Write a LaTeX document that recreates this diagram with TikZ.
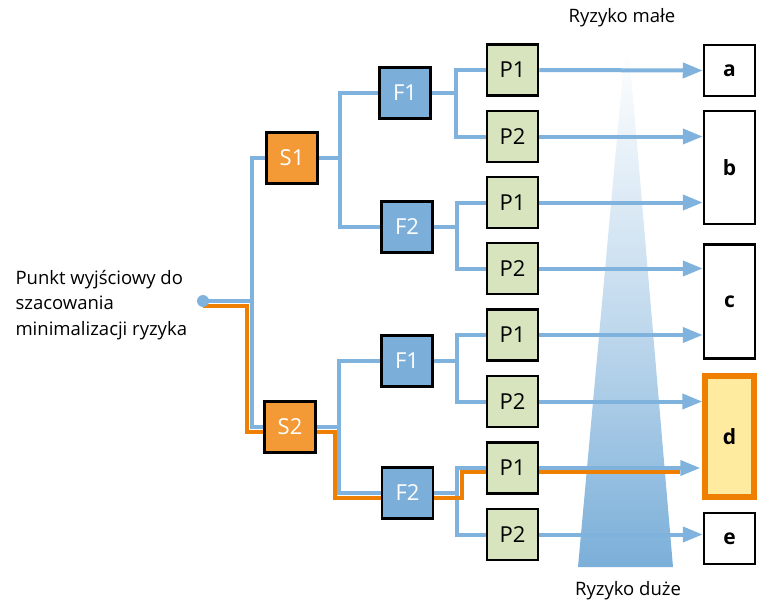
\documentclass[tikz,border=0pt]{standalone}
\usepackage{fontspec}
\setmainfont{Open Sans}
\usetikzlibrary{arrows.meta}
\definecolor{blueline}{HTML}{7FB3DD}
\definecolor{bluebox}{HTML}{7BAFD9}
\definecolor{orangebox}{HTML}{F39A36}
\definecolor{orangeline}{HTML}{EE7F00}
\definecolor{greenbox}{HTML}{D7E4BD}
\definecolor{yellowbox}{HTML}{FFEBA0}
\tikzset{
  sbox/.style={draw=black, line width=2.5pt, fill=orangebox, minimum size=51pt, inner sep=0pt, text=white, font=\fontsize{22}{22}\selectfont},
  fbox/.style={draw=black, line width=2.5pt, fill=bluebox, minimum size=51pt, inner sep=0pt, text=white, font=\fontsize{22}{22}\selectfont},
  pbox/.style={draw=black, line width=2.5pt, fill=greenbox, minimum size=51pt, inner sep=0pt, text=black, font=\fontsize{22}{22}\selectfont},
  rbox/.style={draw=black, line width=2.5pt, fill=white, minimum width=51pt, inner sep=0pt, text=black, font=\fontsize{21}{21}\selectfont\bfseries},
  bline/.style={draw=blueline, line width=4pt},
  oline/.style={draw=orangeline, line width=4pt},
  barrow/.style={draw=blueline, line width=4pt, -{Triangle[length=20pt,width=15pt]}},
  lbl/.style={font=\fontsize{18.5}{25.5}\selectfont, text=black},
}
\begin{document}
\begin{tikzpicture}[x=1pt,y=-1pt]
\useasboundingbox (0,0) rectangle (757,607);
% gradient wedge
\shade[top color=white, bottom color=bluebox, middle color=bluebox!45] (625,50) -- (629,50) -- (673,567) -- (578,567) -- cycle;
% nodes
\node[sbox] (S1) at (292,158) {S1};
\node[sbox] (S2) at (290,427) {S2};
\node[fbox] (F1a) at (405,93) {F1};
\node[fbox] (F2a) at (407,227) {F2};
\node[fbox] (F1b) at (407,361) {F1};
\node[fbox] (F2b) at (407.5,493) {F2};
\node[pbox] (P1a) at (512.5,70) {P1};
\node[pbox] (P2a) at (512.5,136.5) {P2};
\node[pbox] (P1b) at (512.5,202.5) {P1};
\node[pbox] (P2b) at (512.5,268.5) {P2};
\node[pbox] (P1c) at (512.5,335) {P1};
\node[pbox] (P2c) at (512.5,401.5) {P2};
\node[pbox] (P1d) at (512.5,468) {P1};
\node[pbox] (P2d) at (512.5,534.5) {P2};
\node[rbox, minimum height=51pt] (a) at (729.5,70.5) {a};
\node[rbox, minimum height=113pt] (b) at (729.5,167.5) {b};
\node[rbox, minimum height=114pt] (c) at (729.5,301.5) {c};
\node[rbox, draw=orangeline, line width=5.5pt, fill=yellowbox, minimum width=49pt, minimum height=121pt] (d) at (729.5,436.5) {d};
\node[rbox, minimum height=51pt] (e) at (729.5,538.5) {e};
\coordinate (start) at (203,301);
% labels
\node[lbl, align=left, anchor=west] (lab) at (12,305) {Punkt wyjściowy do\\szacowania\\minimalizacji ryzyka};
\node[lbl] (low) at (622,18) {Ryzyko małe};
\node[lbl] (high) at (628,591) {Ryzyko duże};
% blue tree
\draw[bline] (start) -- (252,301);
\draw[bline] (S1.west) -| (252,427) -- (S2.west);
\draw[bline] (F1a.west) -| (340,227) -- (F2a.west);
\draw[bline] (S1.east) -- (340,158);
\draw[bline] (F1b.west) -| (339,493) -- (F2b.west);
\draw[bline] (S2.east) -- (339,427);
\draw[bline] (P1a.west) -| (456,136.5) -- (P2a.west);
\draw[bline] (F1a.east) -- (456,93);
\draw[bline] (P1b.west) -| (457,268.5) -- (P2b.west);
\draw[bline] (F2a.east) -- (457,227);
\draw[bline] (P1c.west) -| (457,401.5) -- (P2c.west);
\draw[bline] (F1b.east) -- (457,361);
\draw[bline] (P1d.west) -| (457,534.5) -- (P2d.west);
\draw[bline] (F2b.east) -- (457,493);
% arrows
\draw[barrow] (P1a.east) -- (a.west);
\draw[barrow] (P2a.east) -- (b.west |- P2a);
\draw[barrow] (P1b.east) -- (b.west |- P1b);
\draw[barrow] (P2b.east) -- (c.west |- P2b);
\draw[barrow] (P1c.east) -- (c.west |- P1c);
\draw[barrow] (P2c.east) -- (d.west |- P2c);
\draw[barrow] (P1d.east) -- ([xshift=-2pt]d.west |- P1d);
\draw[barrow] (P2d.east) -- (e.west |- P2d);
% orange path
\draw[oline] ([yshift=-5pt]start) -- (247,306) -- (247,432) -- ([yshift=-5pt]S2.west);
\draw[oline] ([yshift=-5pt]S2.east) -- (334.5,432) -- (334.5,498) -- ([yshift=-5pt]F2b.west);
\draw[oline] ([yshift=-5pt]F2b.east) -- (462,498) -- (462,472) -- (P1d.west |- 0,472);
\draw[oline] (P1d.east |- 0,472) -- (680,472);
% redraw P1d and S2, F2b over orange
\node[pbox] at (P1d) {P1};
\node[sbox] at (S2) {S2};
\node[fbox] at (F2b) {F2};
\fill[blueline] (start) circle (6pt);
\end{tikzpicture}
\end{document}
